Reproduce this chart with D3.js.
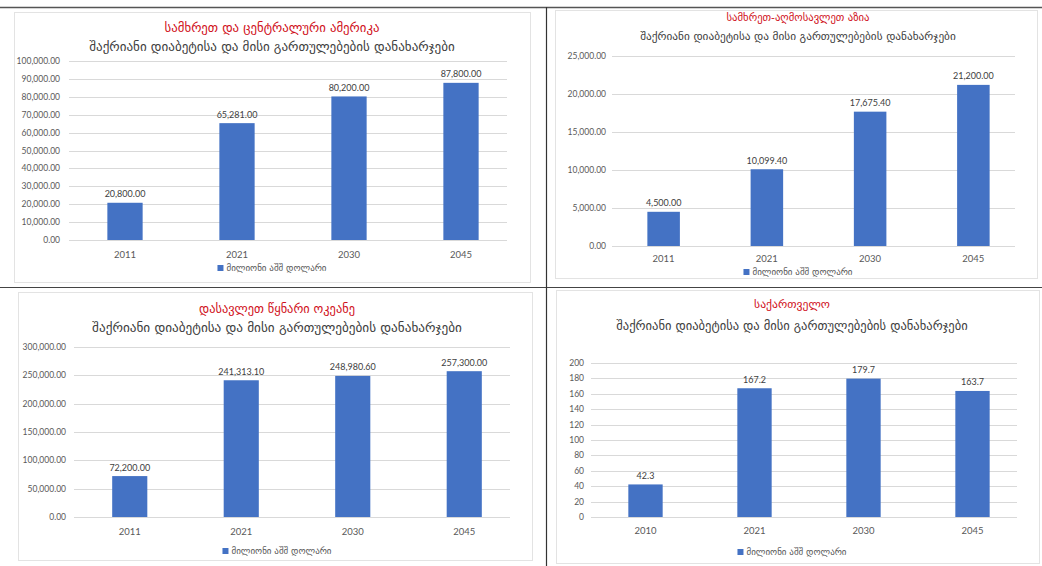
<!DOCTYPE html>
<html>
<head>
<meta charset="utf-8">
<script src="https://cdn.jsdelivr.net/npm/d3@7"></script>
<style>
  html, body { margin: 0; padding: 0; background: #fff; }
  svg { display: block; }
  text { font-family: "DejaVu Sans", "Noto Sans", sans-serif; }
  text.num { font-family: Lato, "Open Sans", sans-serif; }
</style>
</head>
<body>
<svg id="chart" width="1042" height="566"></svg>
<script>
// ---- data ----
const subtitle = "შაქრიანი დიაბეტისა და მისი გართულებების დანახარჯები";
const legendLabel = "მილიონი აშშ დოლარი";

const titleSCA = "სამხრეთ და ცენტრალური ამერიკა";
const yearsSCA = ["2011", "2021", "2030", "2045"];
const valuesSCA = [20800.00, 65281.00, 80200.00, 87800.00];
const ticksSCA = [0, 10000, 20000, 30000, 40000, 50000, 60000, 70000, 80000, 90000, 100000];

const titleSEA = "სამხრეთ-აღმოსავლეთ აზია";
const yearsSEA = ["2011", "2021", "2030", "2045"];
const valuesSEA = [4500.00, 10099.40, 17675.40, 21200.00];
const ticksSEA = [0, 5000, 10000, 15000, 20000, 25000];

const titleWP = "დასავლეთ წყნარი ოკეანე";
const yearsWP = ["2011", "2021", "2030", "2045"];
const valuesWP = [72200.00, 241313.10, 248980.60, 257300.00];
const ticksWP = [0, 50000, 100000, 150000, 200000, 250000, 300000];

const titleGE = "საქართველო";
const yearsGE = ["2010", "2021", "2030", "2045"];
const valuesGE = [42.3, 167.2, 179.7, 163.7];
const ticksGE = [0, 20, 40, 60, 80, 100, 120, 140, 160, 180, 200];

// ---- layout of the four panels ----
const fmt2 = d3.format(",.2f");
const fmtPlain = v => String(v);

const panels = [
  { title: titleSCA, years: yearsSCA, values: valuesSCA, ticks: ticksSCA, fmt: fmt2,
    frame: [14, 12, 516, 270], titleY: 27, subY: 46, cx: 272, titleW: 215, subW: 366,
    x: [69, 517], y: [240, 61], labelX: 60, xLabY: 254, legY: 268 },
  { title: titleSEA, years: yearsSEA, values: valuesSEA, ticks: ticksSEA, fmt: fmt2,
    frame: [555, 10, 482, 268], titleY: 17, subY: 36, cx: 798, titleW: 143, subW: 316,
    x: [612, 1025], y: [246, 56], labelX: 606, xLabY: 258, legY: 272 },
  { title: titleWP, years: yearsWP, values: valuesWP, ticks: ticksWP, fmt: fmt2,
    frame: [18, 292, 514, 268], titleY: 309, subY: 327, cx: 277, titleW: 156, subW: 370,
    x: [74, 520], y: [517, 347], labelX: 66, xLabY: 531, legY: 551 },
  { title: titleGE, years: yearsGE, values: valuesGE, ticks: ticksGE, fmt: fmtPlain,
    frame: [556, 290, 483, 273], titleY: 304, subY: 325, cx: 792, titleW: 76, subW: 352,
    x: [591, 1027], y: [517, 363], labelX: 584, xLabY: 530, legY: 552 }
];

const barColor = "#4472c4";
const textColor = "#595959";
const gridColor = "#d9d9d9";

const svg = d3.select("#chart");

// outer separators between the four pictures
svg.append("line").attr("x1", 0).attr("x2", 1042).attr("y1", 7.5).attr("y2", 7.5)
  .attr("stroke", "#555").attr("stroke-width", 1.5);
svg.append("line").attr("x1", 0).attr("x2", 1042).attr("y1", 287.5).attr("y2", 287.5)
  .attr("stroke", "#444").attr("stroke-width", 1.2);
svg.append("line").attr("x1", 546.5).attr("x2", 546.5).attr("y1", 7).attr("y2", 566)
  .attr("stroke", "#333").attr("stroke-width", 1.2);

// scale a text's font size so it spans the given width
function fitText(sel, width, baseSize) {
  sel.attr("font-size", baseSize);
  const w = sel.node().getComputedTextLength();
  if (w > 0) sel.attr("font-size", baseSize * width / w);
}

panels.forEach(p => {
  const g = svg.append("g");

  g.append("rect")
    .attr("x", p.frame[0] + 0.5).attr("y", p.frame[1] + 0.5)
    .attr("width", p.frame[2]).attr("height", p.frame[3])
    .attr("fill", "#fff").attr("stroke", "#e3e3e3");

  const t = g.append("text").attr("x", p.cx).attr("y", p.titleY)
    .attr("text-anchor", "middle").attr("dominant-baseline", "central")
    .attr("fill", "#d0101a").text(p.title);
  fitText(t, p.titleW, 13);

  const s = g.append("text").attr("x", p.cx).attr("y", p.subY)
    .attr("text-anchor", "middle").attr("dominant-baseline", "central")
    .attr("fill", "#404040").text(subtitle);
  fitText(s, p.subW, 15);

  const x = d3.scaleBand().domain(p.years).range(p.x).paddingInner(0.685).paddingOuter(0.3425);
  const y = d3.scaleLinear().domain([0, d3.max(p.ticks)]).range(p.y);

  // gridlines
  g.append("g").selectAll("line").data(p.ticks).join("line")
    .attr("x1", p.x[0]).attr("x2", p.x[1] - 10)
    .attr("y1", d => Math.round(y(d)) + 0.5).attr("y2", d => Math.round(y(d)) + 0.5)
    .attr("stroke", gridColor).attr("stroke-width", 1);

  // y tick labels
  g.append("g").selectAll("text").data(p.ticks).join("text")
    .attr("class", "num")
    .attr("x", p.labelX).attr("y", d => y(d))
    .attr("text-anchor", "end").attr("dominant-baseline", "central")
    .attr("font-size", 8.5).attr("fill", textColor)
    .text(d => p.fmt(d));

  // bars
  g.append("g").selectAll("rect").data(p.years).join("rect")
    .attr("x", d => x(d)).attr("width", x.bandwidth())
    .attr("y", (d, i) => y(p.values[i]))
    .attr("height", (d, i) => y(0) - y(p.values[i]))
    .attr("fill", barColor);

  // value labels
  g.append("g").selectAll("text").data(p.years).join("text")
    .attr("class", "num")
    .attr("x", d => x(d) + x.bandwidth() / 2)
    .attr("y", (d, i) => y(p.values[i]) - 9)
    .attr("text-anchor", "middle").attr("dominant-baseline", "central")
    .attr("font-size", 9).attr("fill", "#404040")
    .text((d, i) => p.fmt(p.values[i]));

  // category labels
  g.append("g").selectAll("text").data(p.years).join("text")
    .attr("class", "num")
    .attr("x", d => x(d) + x.bandwidth() / 2).attr("y", p.xLabY)
    .attr("text-anchor", "middle").attr("dominant-baseline", "central")
    .attr("font-size", 9.5).attr("fill", textColor)
    .text(d => d);

  // legend
  const lg = g.append("g");
  const lt = lg.append("text").attr("y", p.legY).attr("dominant-baseline", "central")
    .attr("font-size", 9).attr("fill", textColor).text(legendLabel);
  const lw = lt.node().getComputedTextLength();
  const total = 6 + 3 + lw;
  const lx = p.cx - total / 2;
  lg.append("rect").attr("x", lx).attr("y", p.legY - 3).attr("width", 6).attr("height", 6)
    .attr("fill", barColor);
  lt.attr("x", lx + 9);
});
</script>
</body>
</html>
